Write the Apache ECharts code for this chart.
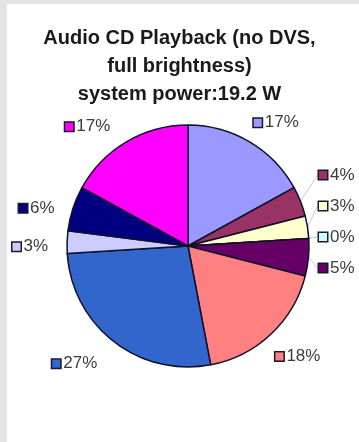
<!DOCTYPE html>
<html>
<head>
<meta charset="utf-8">
<style>
  html, body { margin: 0; padding: 0; background: #e4e4e2; }
  #chart { width: 359px; height: 442px; }
</style>
<script src="https://cdn.jsdelivr.net/npm/echarts@6/dist/echarts.min.js"></script>
</head>
<body>
<div id="chart"></div>
<script>
// Power breakdown, clockwise from 12 o'clock
const categories = ['c1', 'c2', 'c3', 'c4', 'c5', 'c6', 'c7', 'c8', 'c9', 'c10'];
const shares = [17, 4, 3, 0, 5, 18, 27, 3, 6, 17];
const sliceColors = ['#9999FF', '#993366', '#FFFFCC', '#CCFFFF', '#660066',
                     '#FF8080', '#3366CC', '#CCCCFF', '#000080', '#FF00FF'];
const titleLines = ['Audio CD Playback (no DVS,', 'full brightness)', 'system power:19.2 W'];

// small slices on the right get stacked labels with leader lines
const stacked = { 1: 0, 2: 1, 3: 2, 4: 3 };
// small nudges for the other outside labels
const nudge = {
  0: [-8, -7], 5: [-10, 12], 6: [-3, 11], 7: [0, 5], 8: [0, 4], 9: [-4, -3]
};

const chart = echarts.init(document.getElementById('chart'));

const data = shares.map((v, i) => ({
  name: categories[i],
  value: v,
  itemStyle: { color: sliceColors[i] },
  label: {
    rich: {
      sq: { width: 8, height: 8, backgroundColor: sliceColors[i],
            borderColor: '#1a1a2a', borderWidth: 1.5 },
      t: { fontSize: 17, color: '#3c3c3c', fontFamily: 'Liberation Sans, Arial, sans-serif', padding: [0, 0, 0, 3] }
    }
  },
  labelLine: { show: i in stacked }
}));

chart.setOption({
  animation: false,
  backgroundColor: '#e4e4e2',
  graphic: [{
    type: 'rect', left: 7, top: 4, shape: { width: 352, height: 438 },
    style: { fill: '#ffffff' }, z: -10
  }],
  title: {
    text: titleLines.join('\n'),
    left: 'center',
    top: 19,
    textStyle: {
      fontFamily: 'Liberation Sans, Arial, sans-serif',
      fontWeight: 'bold', fontSize: 20, lineHeight: 28, color: '#1a1a1a'
    }
  },
  series: [{
    type: 'pie',
    center: [188, 246],
    radius: 121,
    startAngle: 90,
    clockwise: true,
    avoidLabelOverlap: false,
    itemStyle: { borderColor: '#10102a', borderWidth: 1.5 },
    label: {
      show: true,
      position: 'outside',
      formatter: '{sq|}{t|{c}%}'
    },
    labelLine: {
      length: 14, length2: 0,
      lineStyle: { color: '#c8c8c8', width: 1 }
    },
    labelLayout: function (p) {
      if (p.dataIndex in stacked) {
        const k = stacked[p.dataIndex];
        return { x: 319, y: 175 + k * 31, align: 'left', verticalAlign: 'middle' };
      }
      const n = nudge[p.dataIndex] || [0, 0];
      return { dx: n[0], dy: n[1] };
    },
    data: data
  }]
});
</script>
</body>
</html>
